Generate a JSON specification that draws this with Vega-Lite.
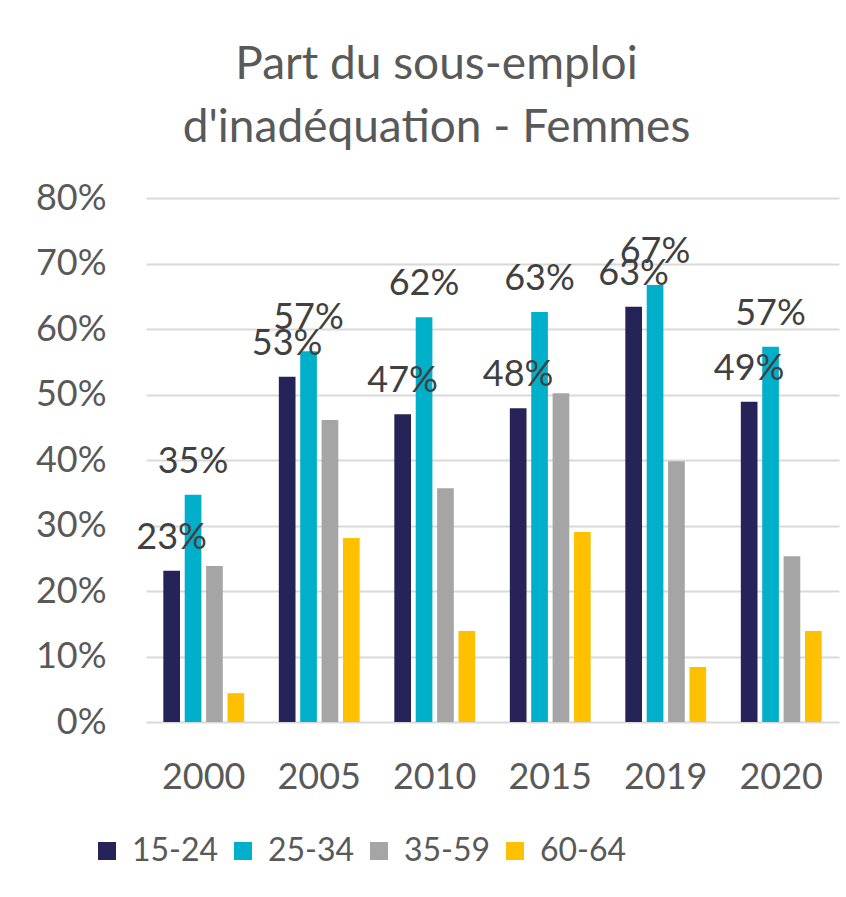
{
  "$schema": "https://vega.github.io/schema/vega-lite/v6.json",
  "width": 693,
  "height": 524,
  "padding": {"left": 35, "top": 42, "right": 10, "bottom": 10},
  "background": "white",
  "title": {
    "text": ["Part du sous-emploi", "d'inadéquation - Femmes"],
    "fontSize": 46,
    "fontWeight": "normal",
    "color": "#595959",
    "font": "Lato",
    "lineHeight": 63,
    "offset": 28,
    "dx": -56
  },
  "data": {
    "values": [
      {"annee": "2000", "age": "15-24", "part": 0.231},
      {"annee": "2000", "age": "25-34", "part": 0.347},
      {"annee": "2000", "age": "35-59", "part": 0.238},
      {"annee": "2000", "age": "60-64", "part": 0.044},
      {"annee": "2005", "age": "15-24", "part": 0.527},
      {"annee": "2005", "age": "25-34", "part": 0.566},
      {"annee": "2005", "age": "35-59", "part": 0.461},
      {"annee": "2005", "age": "60-64", "part": 0.281},
      {"annee": "2010", "age": "15-24", "part": 0.470},
      {"annee": "2010", "age": "25-34", "part": 0.618},
      {"annee": "2010", "age": "35-59", "part": 0.357},
      {"annee": "2010", "age": "60-64", "part": 0.139},
      {"annee": "2015", "age": "15-24", "part": 0.479},
      {"annee": "2015", "age": "25-34", "part": 0.626},
      {"annee": "2015", "age": "35-59", "part": 0.502},
      {"annee": "2015", "age": "60-64", "part": 0.290},
      {"annee": "2019", "age": "15-24", "part": 0.634},
      {"annee": "2019", "age": "25-34", "part": 0.667},
      {"annee": "2019", "age": "35-59", "part": 0.398},
      {"annee": "2019", "age": "60-64", "part": 0.084},
      {"annee": "2020", "age": "15-24", "part": 0.489},
      {"annee": "2020", "age": "25-34", "part": 0.573},
      {"annee": "2020", "age": "35-59", "part": 0.253},
      {"annee": "2020", "age": "60-64", "part": 0.139}
    ]
  },
  "encoding": {
    "x": {
      "field": "annee", "type": "nominal",
      "scale": {"paddingInner": 0.3, "paddingOuter": 0.15},
      "axis": {"title": null, "labelAngle": 0, "labelFontSize": 36, "labelColor": "#595959", "labelFont": "Lato", "ticks": false, "domain": false, "labelPadding": 38}
    },
    "xOffset": {
      "field": "age", "type": "nominal",
      "scale": {"paddingInner": 0.22}
    },
    "y": {
      "field": "part", "type": "quantitative",
      "scale": {"domain": [0, 0.8]},
      "axis": {"title": null, "format": ".0%", "tickCount": 8, "labelFontSize": 36, "labelColor": "#595959", "labelFont": "Lato", "ticks": false, "domain": false, "labelPadding": 40, "gridColor": "#D9D9D9", "gridWidth": 2}
    }
  },
  "layer": [
    {
      "mark": {"type": "bar"},
      "encoding": {
        "color": {
          "field": "age", "type": "nominal",
          "scale": {"domain": ["15-24", "25-34", "35-59", "60-64"], "range": ["#262358", "#00B0CA", "#A5A5A5", "#FFC000"]},
          "legend": {
            "title": null, "orient": "none", "direction": "horizontal",
            "legendX": -55, "legendY": 637,
            "symbolType": "square", "symbolSize": 324, "symbolStrokeWidth": 0,
            "labelFontSize": 32, "labelColor": "#595959", "labelFont": "Lato",
            "columnPadding": 8, "labelOffset": 9
          }
        }
      }
    },
    {
      "transform": [{"filter": "datum.age === '15-24' || datum.age === '25-34'"}],
      "mark": {"type": "text", "baseline": "bottom", "dy": -14, "fontSize": 36, "color": "#404040", "font": "Lato"},
      "encoding": {
        "text": {"field": "part", "type": "quantitative", "format": ".0%"}
      }
    }
  ],
  "config": {
    "view": {"stroke": null}
  }
}
